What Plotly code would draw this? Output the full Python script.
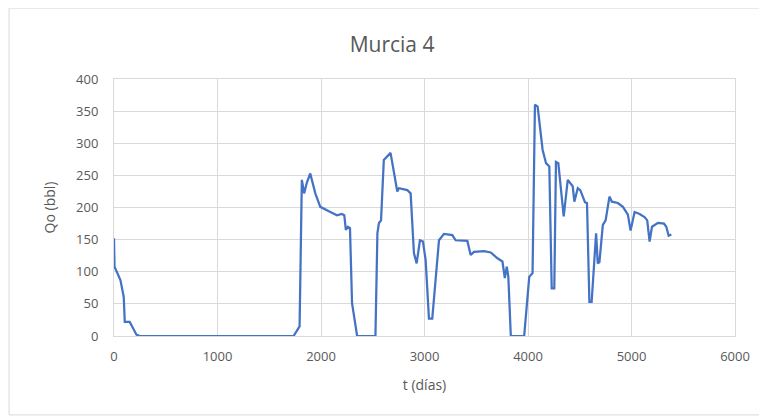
import plotly.graph_objects as go

# Murcia 4 production history
t_days = [0, 5, 62, 94, 104, 152, 217, 250, 1735, 1793, 1815, 1837, 1862, 1896, 1945,
          1993, 2090, 2155, 2200, 2225, 2240, 2260, 2280, 2300, 2349, 2526, 2545, 2560,
          2580, 2607, 2672, 2737, 2753, 2834, 2866, 2898, 2924, 2956, 2985, 3011, 3043,
          3075, 3140, 3188, 3269, 3301, 3414, 3446, 3478, 3576, 3640, 3705, 3753, 3776,
          3795, 3810, 3834, 3963, 4012, 4044, 4067, 4093, 4141, 4174, 4206, 4229, 4254,
          4270, 4293, 4345, 4384, 4432, 4448, 4481, 4505, 4551, 4570, 4593, 4615, 4658,
          4674, 4690, 4723, 4750, 4787, 4810, 4868, 4917, 4965, 4991, 5030, 5078, 5126,
          5152, 5175, 5198, 5256, 5314, 5336, 5359, 5385]
qo_bbl = [152, 108, 87, 61, 22, 22, 2, 0, 0, 15, 243, 222, 238, 253, 222,
          201, 193, 188, 190, 188, 165, 170, 168, 51, 0, 0, 160, 176,
          180, 274, 285, 225, 230, 227, 222, 129, 113, 149, 147, 118, 27,
          27, 149, 159, 157, 149, 148, 126, 131, 132, 130, 121, 116, 90,
          108, 92, 0, 0, 92, 98, 360, 357, 290, 269, 264, 74, 74,
          271, 269, 186, 243, 233, 209, 230, 227, 208, 207, 53, 53, 160,
          113, 115, 173, 180, 217, 209, 207, 201, 189, 164, 193, 190, 185,
          180, 147, 170, 176, 175, 170, 156, 158]

x_ticks = [0, 1000, 2000, 3000, 4000, 5000, 6000]
y_ticks = [0, 50, 100, 150, 200, 250, 300, 350, 400]

GRID = "#d9d9d9"
TEXT = "#595959"
FONT = "Open Sans, Lato, sans-serif"

fig = go.Figure()
fig.add_trace(go.Scatter(x=t_days, y=qo_bbl, mode="lines",
                         line=dict(color="#4472c4", width=2.25),
                         showlegend=False))

# page has an 8px body margin, so the figure is sized to fit inside the window
fig.update_layout(
    width=759, height=409,
    margin=dict(l=106, r=32, t=71, b=81),
    paper_bgcolor="white", plot_bgcolor="white",
    font=dict(family=FONT, color=TEXT, size=13),
    title=dict(text="Murcia 4", x=0.506, xanchor="center", y=0.9095, yanchor="middle",
               yref="container", font=dict(size=21, color=TEXT)),
    xaxis=dict(range=[0, 6000], tickvals=x_ticks, showgrid=True, gridcolor=GRID,
               zeroline=False, showline=True, linecolor=GRID, mirror=True,
               ticks="", tickfont=dict(size=13, color=TEXT), ticklabelstandoff=8,
               title=dict(text="t (días)", font=dict(size=14, color=TEXT), standoff=16)),
    yaxis=dict(range=[0, 400], tickvals=y_ticks, showgrid=True, gridcolor=GRID,
               zeroline=False, showline=True, linecolor=GRID, mirror=True,
               ticks="", tickfont=dict(size=13, color=TEXT), ticklabelstandoff=12,
               title=dict(text="Qo (bbl)", font=dict(size=14, color=TEXT), standoff=17)),
)

# outer chart border, like the spreadsheet chart frame
fig.add_shape(type="rect", xref="paper", yref="paper",
              x0=-0.169, x1=1.05, y0=-0.307, y1=1.276,
              line=dict(color="#d9d9d9", width=1), fillcolor="rgba(0,0,0,0)")

fig.write_html("out.html")
